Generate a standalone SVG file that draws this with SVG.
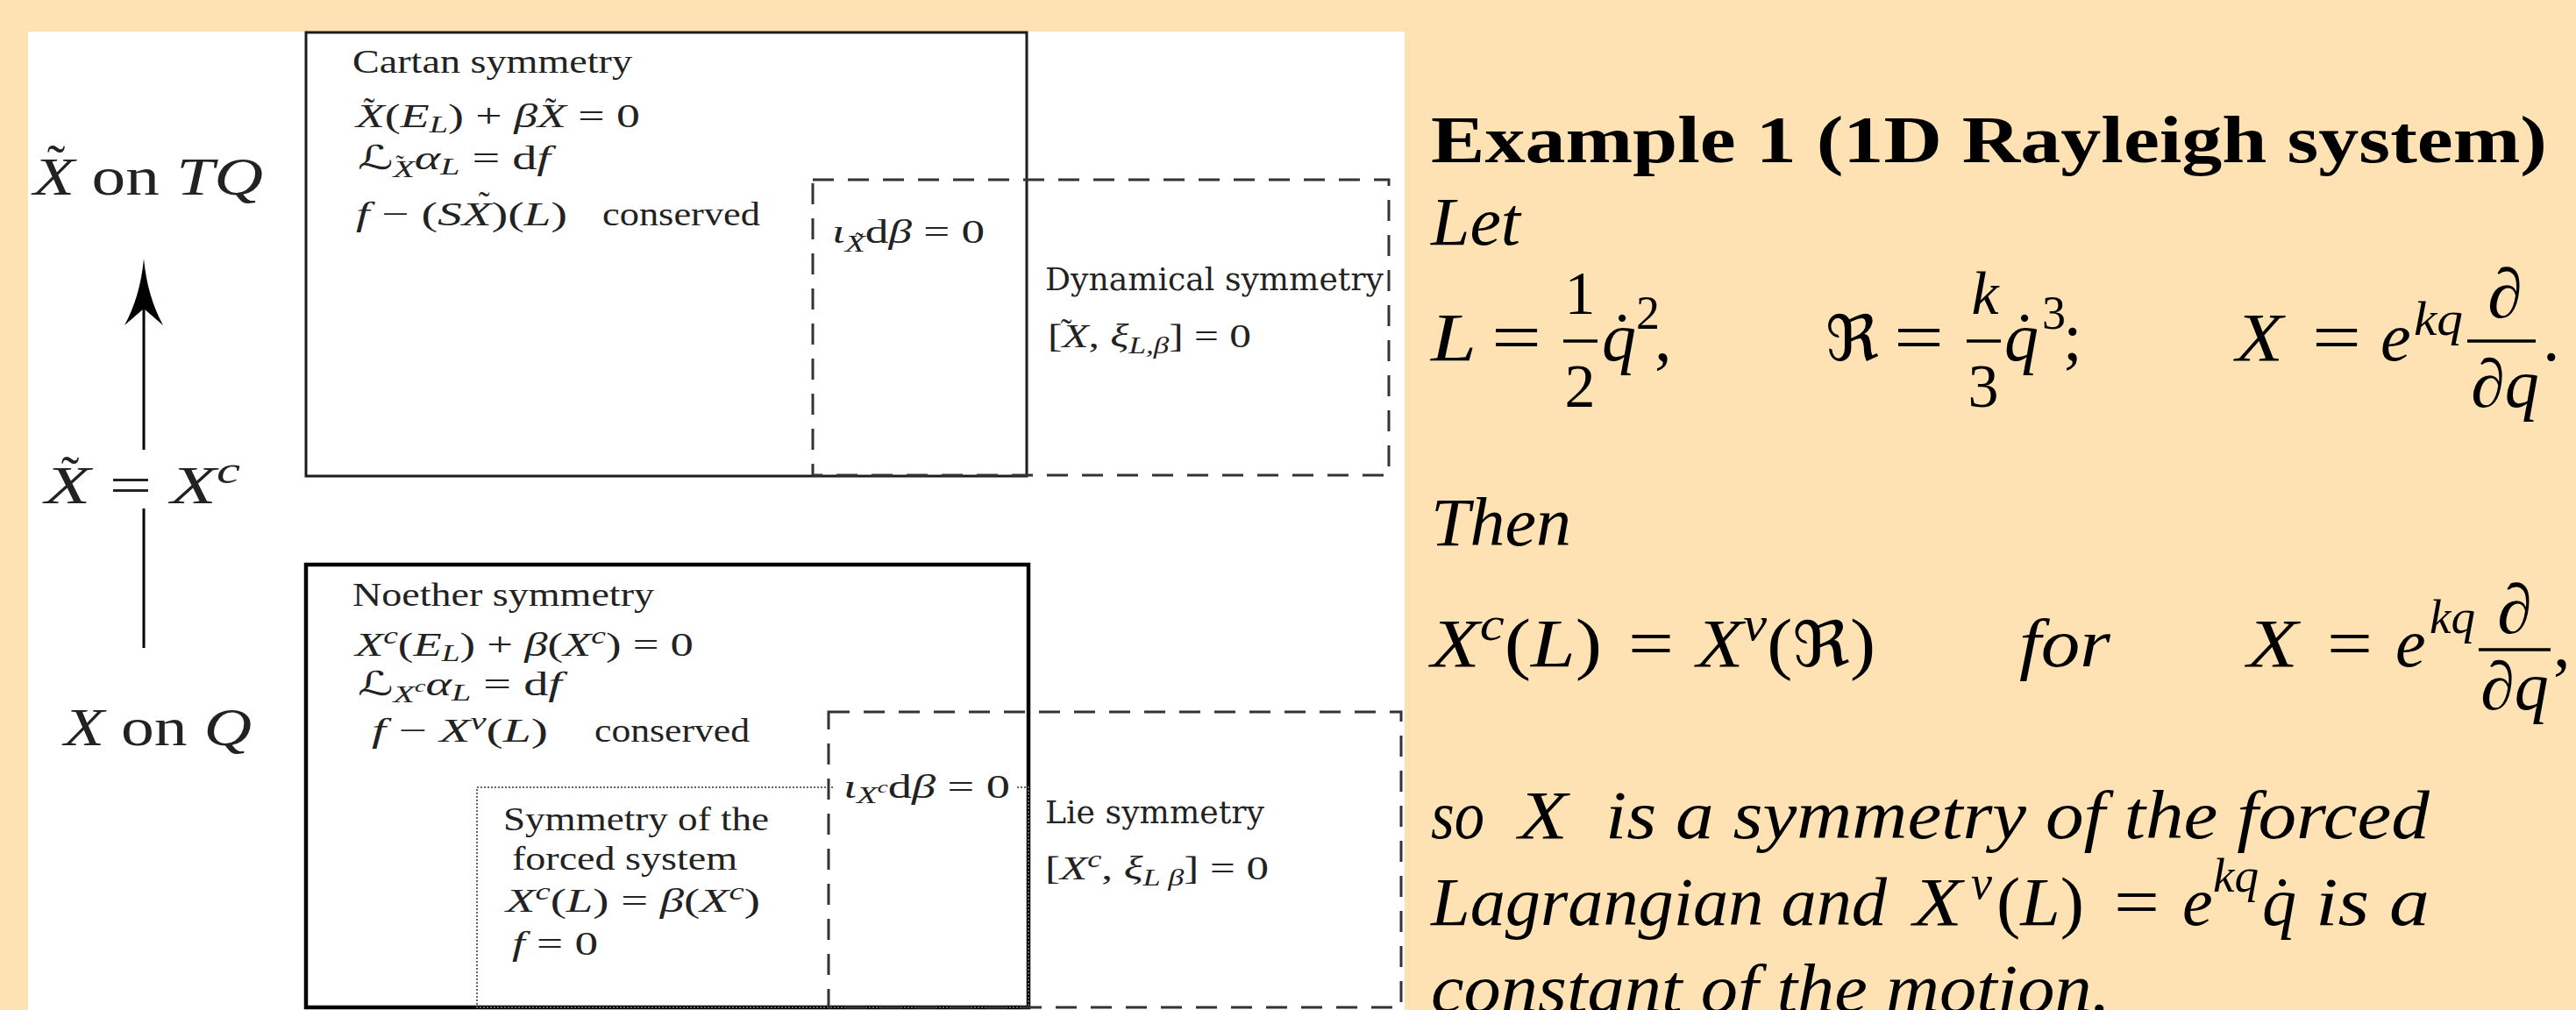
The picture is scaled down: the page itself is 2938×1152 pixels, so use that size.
<svg xmlns="http://www.w3.org/2000/svg" width="2938" height="1152" viewBox="0 0 2938 1152">
<style>
text { font-family: "Liberation Serif", "DejaVu Serif", "DejaVu Sans", serif; fill: #222; }
.i { font-style: italic; }
.dv { font-family: "DejaVu Serif", serif; }
.r { fill: #000; font-family: "Liberation Serif", serif; }
.sym { font-family: "DejaVu Serif", "DejaVu Sans", serif; }
.tl { text-anchor: middle; }
.mid { text-anchor: middle; }
.solid { fill: none; stroke: #1c1c1c; stroke-width: 3; }
.thick { fill: none; stroke: #000; stroke-width: 4.5; }
.dash { fill: none; stroke: #333; stroke-width: 3; stroke-dasharray: 24 16; }
.dot { fill: none; stroke: #666; stroke-width: 2; stroke-dasharray: 2 2; }
.bar { stroke: #000; stroke-width: 3.5; }
</style>
<rect x="0" y="0" width="2938" height="1152" fill="#FFE2B3"/>
<rect x="32" y="36" width="1570" height="1116" fill="#FFFFFF"/>

<g id="connectors">
  <line x1="164" y1="513" x2="164" y2="350" stroke="#000" stroke-width="3"/>
  <path d="M164,295 Q160,338 142,371 L164,352 L186,371 Q168,338 164,295 Z" fill="#000"/>
  <line x1="164" y1="580" x2="164" y2="739" stroke="#000" stroke-width="3"/>
</g>

<g id="label-tq">
  <text x="38" y="222" font-size="62" textLength="262" lengthAdjust="spacingAndGlyphs"><tspan class="i">X</tspan> on <tspan class="i">TQ</tspan></text>
  <text class="tl" x="64" y="208" font-size="62">˜</text>
</g>
<g id="label-lift">
  <text x="51" y="574" font-size="62" textLength="223" lengthAdjust="spacingAndGlyphs"><tspan class="i">X</tspan> = <tspan class="i">X</tspan><tspan class="i" font-size="44" dy="-23">c</tspan></text>
  <text class="tl" x="80" y="563" font-size="62">˜</text>
</g>
<g id="label-q">
  <text x="73" y="850" font-size="62" textLength="214" lengthAdjust="spacingAndGlyphs"><tspan class="i">X</tspan> on <tspan class="i">Q</tspan></text>
</g>

<g id="cartan">
  <rect class="solid" x="349" y="37" width="822" height="506"/>
  <text x="402" y="83" font-size="38" textLength="319" lengthAdjust="spacingAndGlyphs">Cartan symmetry</text>
  <text x="406" y="145" font-size="38" textLength="324" lengthAdjust="spacingAndGlyphs"><tspan class="i">X</tspan>(<tspan class="i">E</tspan><tspan class="i" font-size="27" dy="6">L</tspan><tspan dy="-6">) + </tspan><tspan class="i">βX</tspan> = 0</text>
  <text class="tl" x="421" y="138" font-size="38">˜</text>
  <text class="tl" x="628" y="138" font-size="38">˜</text>
  <text x="408" y="193" font-size="38" textLength="220" lengthAdjust="spacingAndGlyphs">ℒ<tspan class="i" font-size="27" dy="9">X</tspan><tspan class="i" dy="-9">α</tspan><tspan class="i" font-size="27" dy="6">L</tspan><tspan dy="-6"> = d</tspan><tspan class="i">f</tspan></text>
  <text class="tl" x="456" y="196" font-size="27">˜</text>
  <text x="406" y="257" font-size="38" textLength="241" lengthAdjust="spacingAndGlyphs"><tspan class="i">f</tspan> − (<tspan class="i">SX</tspan>)(<tspan class="i">L</tspan>)</text>
  <text class="tl" x="552" y="245" font-size="38">˜</text>
  <text x="687" y="257" font-size="38" textLength="180" lengthAdjust="spacingAndGlyphs">conserved</text>
</g>

<g id="dynamical">
  <rect class="dash" x="927" y="205" width="657" height="337"/>
  <text x="949" y="277" font-size="38" textLength="174" lengthAdjust="spacingAndGlyphs"><tspan class="i">ι</tspan><tspan class="i" font-size="27" dy="10">X</tspan><tspan dy="-10">d</tspan><tspan class="i">β</tspan> = 0</text>
  <text class="tl" x="980" y="284" font-size="27">˜</text>
  <text class="dv" x="1192" y="331" font-size="35" textLength="386" lengthAdjust="spacingAndGlyphs">Dynamical symmetry</text>
  <text x="1195" y="396" font-size="38" textLength="232" lengthAdjust="spacingAndGlyphs">[<tspan class="i">X</tspan>, <tspan class="i">ξ</tspan><tspan class="i" font-size="27" dy="7">L,β</tspan><tspan dy="-7">] = 0</tspan></text>
  <text class="tl" x="1216" y="390" font-size="38">˜</text>
</g>

<g id="noether">
  <rect class="thick" x="349" y="644" width="824" height="505"/>
  <text x="402" y="691" font-size="38" textLength="344" lengthAdjust="spacingAndGlyphs">Noether symmetry</text>
  <text x="405" y="748" font-size="38" textLength="386" lengthAdjust="spacingAndGlyphs"><tspan class="i">X</tspan><tspan class="i" font-size="27" dy="-14">c</tspan><tspan dy="14">(</tspan><tspan class="i">E</tspan><tspan class="i" font-size="27" dy="6">L</tspan><tspan dy="-6">) + </tspan><tspan class="i">β</tspan>(<tspan class="i">X</tspan><tspan class="i" font-size="27" dy="-14">c</tspan><tspan dy="14">) = 0</tspan></text>
  <text x="408" y="793" font-size="38" textLength="233" lengthAdjust="spacingAndGlyphs">ℒ<tspan class="i" font-size="27" dy="8">X</tspan><tspan class="i" font-size="19" dy="-12">c</tspan><tspan class="i" dy="4">α</tspan><tspan class="i" font-size="27" dy="6">L</tspan><tspan dy="-6"> = d</tspan><tspan class="i">f</tspan></text>
  <text x="424" y="846" font-size="38" textLength="201" lengthAdjust="spacingAndGlyphs"><tspan class="i">f</tspan> − <tspan class="i">X</tspan><tspan class="i" font-size="27" dy="-14">v</tspan><tspan dy="14">(</tspan><tspan class="i">L</tspan>)</text>
  <text x="678" y="846" font-size="38" textLength="177" lengthAdjust="spacingAndGlyphs">conserved</text>
</g>

<g id="forced">
  <rect class="dot" x="544" y="898" width="629" height="251"/>
  <text x="574" y="947" font-size="38" textLength="303" lengthAdjust="spacingAndGlyphs">Symmetry of the</text>
  <text x="584" y="992" font-size="38" textLength="257" lengthAdjust="spacingAndGlyphs">forced system</text>
  <text x="577" y="1040" font-size="38" textLength="290" lengthAdjust="spacingAndGlyphs"><tspan class="i">X</tspan><tspan class="i" font-size="27" dy="-14">c</tspan><tspan dy="14">(</tspan><tspan class="i">L</tspan>) = <tspan class="i">β</tspan>(<tspan class="i">X</tspan><tspan class="i" font-size="27" dy="-14">c</tspan><tspan dy="14">)</tspan></text>
  <text x="584" y="1089" font-size="38" textLength="98" lengthAdjust="spacingAndGlyphs"><tspan class="i">f</tspan> = 0</text>
</g>

<g id="lie">
  <rect x="952" y="882" width="208" height="40" fill="#FFFFFF"/>
  <rect class="dash" x="945" y="812" width="653" height="337"/>
  <text x="962" y="910" font-size="38" textLength="190" lengthAdjust="spacingAndGlyphs"><tspan class="i">ι</tspan><tspan class="i" font-size="27" dy="6">X</tspan><tspan class="i" font-size="19" dy="-12">c</tspan><tspan dy="6">d</tspan><tspan class="i">β</tspan> = 0</text>
  <text class="dv" x="1192" y="939" font-size="35" textLength="250" lengthAdjust="spacingAndGlyphs">Lie symmetry</text>
  <text x="1192" y="1003" font-size="38" textLength="255" lengthAdjust="spacingAndGlyphs">[<tspan class="i">X</tspan><tspan class="i" font-size="27" dy="-14">c</tspan><tspan dy="14">, </tspan><tspan class="i">ξ</tspan><tspan class="i" font-size="27" dy="7">L β</tspan><tspan dy="-7">] = 0</tspan></text>
</g>

<g id="example">
  <text class="r" x="1632" y="185" font-size="77" font-weight="bold" textLength="1273" lengthAdjust="spacingAndGlyphs">Example 1 (1D Rayleigh system)</text>
  <text class="r i" x="1632" y="279" font-size="78" textLength="102" lengthAdjust="spacingAndGlyphs">Let</text>

  <text class="r i" x="1632" y="411" font-size="78" textLength="52" lengthAdjust="spacingAndGlyphs">L</text>
  <text class="r" x="1701" y="411" font-size="78" textLength="57" lengthAdjust="spacingAndGlyphs">=</text>
  <line class="bar" x1="1783" y1="389" x2="1822" y2="389"/>
  <text class="r mid" x="1802" y="358" font-size="70">1</text>
  <text class="r mid" x="1802" y="464" font-size="70">2</text>
  <text class="r i" x="1827" y="411" font-size="78">q</text>
  <text class="r mid" x="1850" y="411" font-size="78">˙</text>
  <text class="r" x="1866" y="375" font-size="54">2</text>
  <text class="r" x="1887" y="411" font-size="78">,</text>

  <text class="r sym" x="2082" y="411" font-size="72" textLength="61" lengthAdjust="spacingAndGlyphs">ℜ</text>
  <text class="r" x="2160" y="411" font-size="78" textLength="57" lengthAdjust="spacingAndGlyphs">=</text>
  <line class="bar" x1="2243" y1="389" x2="2282" y2="389"/>
  <text class="r i mid" x="2264" y="358" font-size="70">k</text>
  <text class="r mid" x="2262" y="464" font-size="70">3</text>
  <text class="r i" x="2286" y="411" font-size="78">q</text>
  <text class="r mid" x="2309" y="411" font-size="78">˙</text>
  <text class="r" x="2329" y="375" font-size="54">3</text>
  <text class="r" x="2353" y="411" font-size="78">;</text>

  <text class="r i" x="2550" y="411" font-size="78" textLength="54" lengthAdjust="spacingAndGlyphs">X</text>
  <text class="r" x="2637" y="411" font-size="78" textLength="56" lengthAdjust="spacingAndGlyphs">=</text>
  <text class="r i" x="2715" y="411" font-size="78">e</text>
  <text class="r i" x="2753" y="382" font-size="54" textLength="56" lengthAdjust="spacingAndGlyphs">kq</text>
  <line class="bar" x1="2814" y1="389" x2="2892" y2="389"/>
  <text class="r i mid" x="2857" y="362" font-size="80">∂</text>
  <text class="r i mid" x="2857" y="464" font-size="78">∂q</text>
  <text class="r" x="2900" y="411" font-size="78">.</text>

  <text class="r i" x="1632" y="622" font-size="78" textLength="160" lengthAdjust="spacingAndGlyphs">Then</text>

  <text class="r" x="1632" y="760" font-size="78" textLength="195" lengthAdjust="spacingAndGlyphs"><tspan class="i">X</tspan><tspan class="i" font-size="54" dy="-30">c</tspan><tspan dy="30">(</tspan><tspan class="i">L</tspan>)</text>
  <text class="r" x="1857" y="760" font-size="78" textLength="52" lengthAdjust="spacingAndGlyphs">=</text>
  <text class="r" x="1935" y="760" font-size="78" textLength="204" lengthAdjust="spacingAndGlyphs"><tspan class="i">X</tspan><tspan class="i" font-size="54" dy="-30">v</tspan><tspan dy="30">(</tspan><tspan class="sym" font-size="72">ℜ</tspan>)</text>
  <text class="r i" x="2303" y="760" font-size="78" textLength="104" lengthAdjust="spacingAndGlyphs">for</text>
  <text class="r i" x="2563" y="760" font-size="78" textLength="58" lengthAdjust="spacingAndGlyphs">X</text>
  <text class="r" x="2654" y="760" font-size="78" textLength="52" lengthAdjust="spacingAndGlyphs">=</text>
  <text class="r i" x="2732" y="760" font-size="78">e</text>
  <text class="r i" x="2771" y="722" font-size="54" textLength="52" lengthAdjust="spacingAndGlyphs">kq</text>
  <line class="bar" x1="2827" y1="741" x2="2909" y2="741"/>
  <text class="r i mid" x="2868" y="722" font-size="80">∂</text>
  <text class="r i mid" x="2868" y="809" font-size="78">∂q</text>
  <text class="r" x="2912" y="760" font-size="78">,</text>

  <text class="r i" x="1632" y="956" font-size="78" textLength="61" lengthAdjust="spacingAndGlyphs">so</text>
  <text class="r i" x="1732" y="956" font-size="78" textLength="56" lengthAdjust="spacingAndGlyphs">X</text>
  <text class="r i" x="1831" y="956" font-size="78" textLength="940" lengthAdjust="spacingAndGlyphs">is a symmetry of the forced</text>

  <text class="r i" x="1632" y="1055" font-size="78" textLength="520" lengthAdjust="spacingAndGlyphs">Lagrangian and</text>
  <text class="r i" x="2182" y="1055" font-size="78" textLength="56" lengthAdjust="spacingAndGlyphs">X</text>
  <text class="r i" x="2248" y="1025" font-size="54">v</text>
  <text class="r" x="2277" y="1055" font-size="78" textLength="100" lengthAdjust="spacingAndGlyphs">(<tspan class="i">L</tspan>)</text>
  <text class="r" x="2411" y="1055" font-size="78" textLength="52" lengthAdjust="spacingAndGlyphs">=</text>
  <text class="r i" x="2489" y="1055" font-size="78">e</text>
  <text class="r i" x="2524" y="1017" font-size="54" textLength="52" lengthAdjust="spacingAndGlyphs">kq</text>
  <text class="r i" x="2580" y="1055" font-size="78">q</text>
  <text class="r mid" x="2603" y="1055" font-size="78">˙</text>
  <text class="r i" x="2641" y="1055" font-size="78" textLength="130" lengthAdjust="spacingAndGlyphs">is a</text>

  <text class="r i" x="1632" y="1154" font-size="78" textLength="775" lengthAdjust="spacingAndGlyphs">constant of the motion.</text>
</g>
</svg>
